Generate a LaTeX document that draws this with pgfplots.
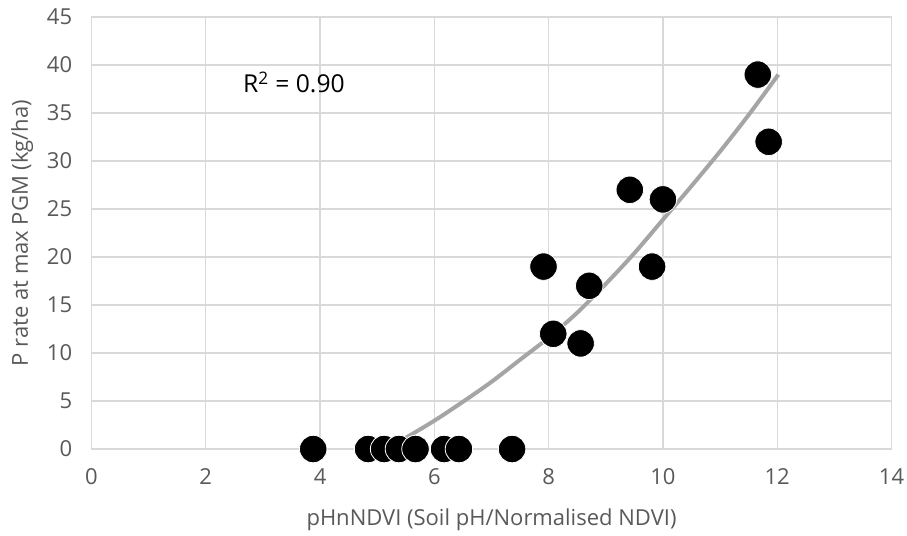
\documentclass[border=0pt]{standalone}
\usepackage{pgfplots}
\pgfplotsset{compat=1.18}
\usepackage{fontspec}
\setmainfont{Open Sans}
\definecolor{txt}{HTML}{595959}
\definecolor{gridc}{HTML}{D9D9D9}
\definecolor{trend}{HTML}{A5A5A5}
\begin{document}
\begin{tikzpicture}
\begin{axis}[
  scale only axis, width=600pt, height=324pt,
  xmin=0, xmax=14, ymin=0, ymax=45,
  xtick={0,2,...,14}, ytick={0,5,...,45},
  grid=major, major grid style={gridc, line width=1pt},
  axis line style={gridc, line width=1pt},
  major tick length=0pt,
  tick label style={font=\fontsize{16.5}{18}\selectfont, text=txt},
  /pgf/number format/assume math mode=true,
  yticklabel style={xshift=-11pt},
  xticklabel style={yshift=-11pt},
  xlabel={pHnNDVI (Soil pH/Normalised NDVI)},
  ylabel={P rate at max PGM (kg/ha)},
  label style={font=\fontsize{16.5}{18}\selectfont, text=txt},
  xlabel style={at={(axis description cs:0.5,0)}, anchor=center, yshift=-53pt},
  ylabel style={at={(axis description cs:0,0.5)}, anchor=center, yshift=52pt},
  clip=false,
]
\addplot[trend, line width=3pt, smooth] coordinates {
 (5.15,0) (5.5,1.17) (6,2.95) (6.5,4.92) (7,7.0) (7.5,9.3) (8,11.6)
 (8.5,14.2) (9,17.2) (9.5,20.4) (10,23.9) (10.5,27.4) (11,31.0) (11.5,34.8) (12.02,39.0)
};
\addplot[only marks, mark=*, mark size=10.3pt, mark options={fill=black, draw=white, line width=0.6pt}] coordinates {
 (3.88,0) (4.84,0) (5.12,0) (5.38,0) (5.67,0) (6.17,0) (6.43,0) (7.36,0)
 (7.91,19) (8.08,12) (8.56,11) (8.71,17) (9.42,27) (9.81,19) (10.0,26)
 (11.66,39) (11.85,32)
};
\node[anchor=west, font=\fontsize{18.5}{20}\selectfont, inner sep=0pt] at (axis cs:2.65,38.2) {R\textsuperscript{2} = 0.90};
\end{axis}
\pgfresetboundingbox
\path ([xshift=-68.6pt,yshift=-64.5pt]current axis.south west) rectangle ([xshift=11.6pt,yshift=12.75pt]current axis.north east);
\end{tikzpicture}
\end{document}
